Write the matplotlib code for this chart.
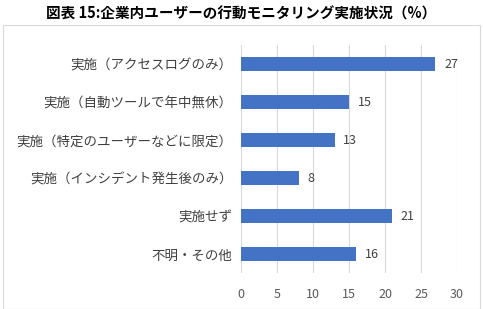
import matplotlib.pyplot as plt
from matplotlib.patches import Rectangle

plt.rcParams['font.family'] = ['Noto Sans CJK JP', 'DejaVu Sans']

categories = ['実施（アクセスログのみ）', '実施（自動ツールで年中無休）', '実施（特定のユーザーなどに限定）',
              '実施（インシデント発生後のみ）', '実施せず', '不明・その他']
values = [27, 15, 13, 8, 21, 16]
xticks = [0, 5, 10, 15, 20, 25, 30]

fig = plt.figure(figsize=(4.83, 3.09), dpi=100)
# outer chart border
fig.patches.append(Rectangle((3 / 483, 0), 477 / 483, 1 - 25 / 309, transform=fig.transFigure,
                             fill=False, edgecolor='#d9d9d9', linewidth=0.8))
fig.text(0.5, 0.955, '図表 15:企業内ユーザーの行動モニタリング実施状況（%）', ha='center', va='center',
         fontsize=10.5, fontweight='bold', color='black')

ax = fig.add_axes([241 / 483, 36 / 309, 216 / 483, 228 / 309])
pos = list(range(len(categories)))
ax.barh(pos, values, height=0.36, color='#4472C4', zorder=3)
for p, v in zip(pos, values):
    ax.text(v + 1.2, p, str(v), va='center', ha='left', fontsize=9, color='#404040')

ax.set_xlim(0, 30)
ax.set_ylim(5.5, -0.5)
ax.set_xticks(xticks)
ax.set_yticks(pos)
ax.set_yticklabels(categories, fontsize=9.7, color='#404040')
ax.tick_params(axis='x', labelsize=9, labelcolor='#595959', length=0, pad=11)
ax.tick_params(axis='y', length=0, pad=6)
ax.grid(axis='x', color='#d9d9d9', linewidth=0.8, zorder=0)
for s in ax.spines.values():
    s.set_visible(False)

fig.savefig('out.png', dpi=100)
